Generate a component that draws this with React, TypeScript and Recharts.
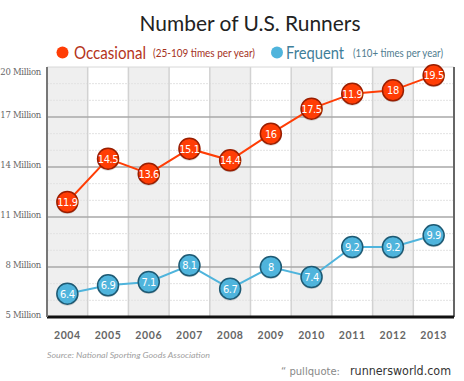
import { LineChart, Line, XAxis, YAxis, ReferenceArea, ReferenceLine } from "recharts";

const years = ["2004", "2005", "2006", "2007", "2008", "2009", "2010", "2011", "2012", "2013"];
// plotted positions (as drawn) and the printed labels
const occasional = [11.9, 14.5, 13.6, 15.1, 14.4, 16, 17.5, 18.4, 18.6, 19.5];
const occasionalLabels = ["11.9", "14.5", "13.6", "15.1", "14.4", "16", "17.5", "11.9", "18", "19.5"];
const frequent = [6.4, 6.9, 7.1, 8.1, 6.7, 8, 7.4, 9.2, 9.2, 9.9];
const frequentLabels = ["6.4", "6.9", "7.1", "8.1", "6.7", "8", "7.4", "9.2", "9.2", "9.9"];
const majorTicks = [5, 8, 11, 14, 17, 20];
const minorTicks = [6, 7, 9, 10, 12, 13, 15, 16, 18, 19];

const data = years.map((year, i) => ({
  i,
  year,
  occ: occasional[i],
  freq: frequent[i],
}));

const RED = "#ff3d05";
const BLUE = "#4fb4dc";
const LABEL_FONT = "'Liberation Sans Narrow', 'DejaVu Sans Condensed', Roboto, sans-serif";

const makeDot = (fill: string, stroke: string, labels: string[]) => (props: any) => {
  const { cx, cy, index } = props;
  return (
    <g key={`dot-${fill}-${index}`}>
      <circle cx={cx} cy={cy + 1} r={11} fill="rgba(0,0,0,0.15)" />
      <circle cx={cx} cy={cy} r={10.5} fill={fill} stroke={stroke} strokeWidth={1.5} />
      <text
        x={cx}
        y={cy + 4}
        textAnchor="middle"
        fill="#fff"
        fontSize={11}
        fontFamily={LABEL_FONT}
        letterSpacing={-0.4}
      >
        {labels[index]}
      </text>
    </g>
  );
};

const YTick = (props: any) => {
  const { y, payload } = props;
  const dy = payload.value === 20 ? 5 : -2;
  return (
    <text
      x={41}
      y={y + dy + 3}
      textAnchor="end"
      fill="#666"
      fontSize={8.5}
      fontFamily="'DejaVu Serif', serif"
      letterSpacing={-0.3}
    >
      {`${payload.value} Million`}
    </text>
  );
};

export default function App() {
  return (
    <div style={{ position: "absolute", left: 0, top: 0, width: 464, height: 381, background: "#fff", overflow: "hidden" }}>
      <LineChart
        width={464}
        height={381}
        data={data}
        margin={{ top: 67, right: 10, left: 0, bottom: 0 }}
      >
        {years.map((y, i) =>
          i % 2 === 0 ? (
            <ReferenceArea key={y} x1={i - 0.5} x2={i + 0.5} y1={5} y2={20} fill="#efefef" fillOpacity={1} stroke="none" />
          ) : null
        )}
        {minorTicks.map((v) => (
          <ReferenceLine key={`mn${v}`} y={v} stroke="#e2e2e2" strokeWidth={1} strokeDasharray="2 1" />
        ))}
        {years.slice(1).map((y, i) => (
          <ReferenceLine key={`v${y}`} x={i + 0.5} stroke="#d2d2d2" strokeWidth={1.5} />
        ))}
        {majorTicks.slice(1, 5).map((v) => (
          <ReferenceLine key={`mj${v}`} y={v} stroke="#a8a8a8" strokeWidth={1.5} />
        ))}
        <ReferenceLine y={20} stroke="#d8d8d8" strokeWidth={1} />
        <ReferenceLine x={9.5} stroke="#666" strokeWidth={2} />
        <XAxis
          dataKey="i"
          type="number"
          domain={[-0.5, 9.5]}
          ticks={years.map((_, i) => i)}
          tickFormatter={(v: number) => years[v]}
          tickLine={false}
          axisLine={{ stroke: "#111", strokeWidth: 3 }}
          height={64}
          tickMargin={9}
          tick={{ fill: "#666", fontSize: 10.5, fontFamily: "Lato, sans-serif", fontWeight: 700, letterSpacing: 0.6 }}
        />
        <YAxis
          type="number"
          domain={[5, 20]}
          ticks={majorTicks}
          width={47}
          tickLine={false}
          axisLine={{ stroke: "#777", strokeWidth: 2 }}
          tick={<YTick />}
        />
        <Line
          dataKey="freq"
          stroke={BLUE}
          strokeWidth={2}
          isAnimationActive={false}
          dot={makeDot(BLUE, "#1d5a74", frequentLabels)}
        />
        <Line
          dataKey="occ"
          stroke={RED}
          strokeWidth={2}
          isAnimationActive={false}
          dot={makeDot(RED, "#9a1e00", occasionalLabels)}
        />
      </LineChart>
      <svg width={464} height={381} style={{ position: "absolute", left: 0, top: 0, pointerEvents: "none" }}>
        <text x={250} y={31} textAnchor="middle" fontSize={21} fill="#222" fontFamily="Lato, sans-serif" textLength={221} lengthAdjust="spacingAndGlyphs">
          Number of U.S. Runners
        </text>
        <circle cx={62.5} cy={52.5} r={6} fill={RED} />
        <text x={74} y={58.5} fontSize={17} fill="#b5341a" fontFamily="Lato, sans-serif" textLength={72} lengthAdjust="spacingAndGlyphs">
          Occasional
        </text>
        <text x={153} y={57} fontSize={10.5} fill="#a5321c" fontFamily="Lato, sans-serif" textLength={102} lengthAdjust="spacingAndGlyphs">
          (25-109 times per year)
        </text>
        <circle cx={277} cy={52.5} r={6} fill={BLUE} />
        <text x={286} y={58.5} fontSize={17} fill="#3f7e99" fontFamily="Lato, sans-serif" textLength={58} lengthAdjust="spacingAndGlyphs">
          Frequent
        </text>
        <text x={353} y={57} fontSize={10.5} fill="#4f7c8f" fontFamily="Lato, sans-serif" textLength={90} lengthAdjust="spacingAndGlyphs">
          (110+ times per year)
        </text>
        <text x={47} y={358} fontSize={8.5} fill="#a0a0a0" fontStyle="italic" fontFamily="Lato, sans-serif" textLength={163} lengthAdjust="spacingAndGlyphs">
          Source: National Sporting Goods Association
        </text>
        <text x={281} y={375} fontSize={10} fill="#888" fontFamily="'DejaVu Sans', sans-serif" textLength={59} lengthAdjust="spacingAndGlyphs">
          “ pullquote:
        </text>
        <text x={350} y={375} fontSize={13} fill="#333" fontFamily="'DejaVu Sans', sans-serif" textLength={101} lengthAdjust="spacingAndGlyphs">
          runnersworld.com
        </text>
      </svg>
    </div>
  );
}
